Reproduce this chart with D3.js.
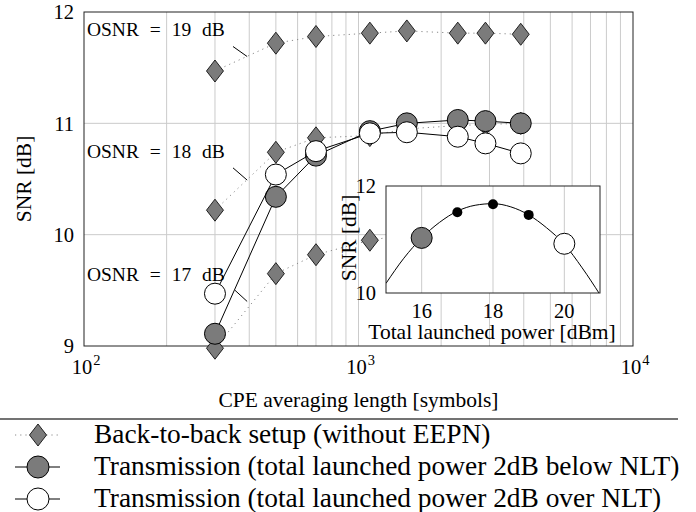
<!DOCTYPE html>
<html><head><meta charset="utf-8">
<script src="https://cdn.jsdelivr.net/npm/d3@7"></script>
<style>
body{margin:0;background:#fff}
svg{display:block}
text{font-family:"Liberation Serif","Times New Roman","DejaVu Serif",serif;fill:#000}
</style>
</head><body>
<svg id="c" width="696" height="512"></svg>
<script>
// ---------- data ----------
const cpeLength = [300, 500, 700, 1100, 1500, 2300, 2900, 3900];
const b2bOSNR19 = [11.47, 11.72, 11.78, 11.81, 11.83, 11.81, 11.81, 11.80];
const b2bOSNR18 = [10.22, 10.74, 10.87, 10.89, 10.95, 10.98, 10.99, 11.00];
const b2bOSNR17 = [8.98, 9.65, 9.82, 9.95, 10.00, 10.03, 10.04, 10.05];
const txBelowNLT = [9.11, 10.34, 10.71, 10.93, 11.00, 11.03, 11.02, 11.00];
const txOverNLT  = [9.47, 10.54, 10.75, 10.91, 10.92, 10.88, 10.82, 10.73];

const yTicks = [9, 10, 11, 12];
const xTickExp = [2, 3, 4];
const osnrLabels = ["OSNR = 19 dB", "OSNR = 18 dB", "OSNR = 17 dB"];
const osnrLabelPos = [[102.5, 11.78], [102.5, 10.69], [102.5, 9.58]];
const osnrPins = [[[349, 11.69], [393, 11.60]], [[349, 10.60], [393, 10.49]], [[355, 9.50], [393, 9.40]]];

// inset
const insetCurvePower = [15, 15.5, 16, 16.5, 17, 17.5, 18, 18.5, 19, 19.5, 20, 20.5, 21];
const insetCurveSNR   = [10.18, 10.65, 11.03, 11.32, 11.53, 11.64, 11.67, 11.61, 11.46, 11.22, 10.91, 10.47, 9.97];
const insetOptPower = [17, 18, 19];
const insetOptSNR   = [11.51, 11.66, 11.46];
const insetBelowPower = [16], insetBelowSNR = [11.03];
const insetOverPower  = [20], insetOverSNR  = [10.92];
const insetXTicks = [16, 18, 20];
const insetYTicks = [10, 12];

const legendLabels = [
  "Back-to-back setup (without EEPN)",
  "Transmission (total launched power 2dB below NLT)",
  "Transmission (total launched power 2dB over NLT)"
];

// ---------- drawing ----------
const svg = d3.select("#c");
const x = d3.scaleLog().domain([100, 10000]).range([84, 633]);
const y = d3.scaleLinear().domain([9, 12]).range([346, 12]);
const gridCol = "#cbcbcb";
const grayFill = "#7b7b7b";

// grid
const vGrid = x.ticks().filter(v => v > 100 && v < 10000);
svg.append("g").selectAll("line").data(vGrid).join("line")
  .attr("x1", d => x(d)).attr("x2", d => x(d)).attr("y1", y(9)).attr("y2", y(12))
  .attr("stroke", gridCol).attr("stroke-width", 1);
svg.append("g").selectAll("line").data([10, 11]).join("line")
  .attr("x1", x(100)).attr("x2", x(10000)).attr("y1", d => y(d)).attr("y2", d => y(d))
  .attr("stroke", gridCol).attr("stroke-width", 1);

// frame
svg.append("rect").attr("x", x(100)).attr("y", y(12))
  .attr("width", x(10000) - x(100)).attr("height", y(9) - y(12))
  .attr("fill", "none").attr("stroke", "#222").attr("stroke-width", 1);

// y tick labels
svg.append("g").selectAll("text").data(yTicks).join("text")
  .attr("x", x(100) - 10).attr("y", d => y(d)).attr("dy", "0.35em")
  .attr("text-anchor", "end").attr("font-size", 20.5).text(d => d);

// x tick labels
const xt = svg.append("g").selectAll("text").data(xTickExp).join("text")
  .attr("x", d => x(Math.pow(10, d)) + 2).attr("y", 374)
  .attr("text-anchor", "middle").attr("font-size", 20.5);
xt.append("tspan").text("10");
xt.append("tspan").attr("dy", -9).attr("dx", 1).attr("font-size", 14.5).text(d => d);

// axis titles
svg.append("text").attr("x", x(1000)).attr("y", 407).attr("text-anchor", "middle")
  .attr("font-size", 21.5).text("CPE averaging length [symbols]");
svg.append("text").attr("transform", "translate(31,179) rotate(-90)")
  .attr("text-anchor", "middle").attr("font-size", 21.5).text("SNR [dB]");

// OSNR labels + pins
svg.append("g").selectAll("text").data(osnrLabels).join("text")
  .attr("x", (d, i) => x(osnrLabelPos[i][0])).attr("y", (d, i) => y(osnrLabelPos[i][1]))
  .attr("font-size", 19.5).attr("word-spacing", 6).text(d => d);
svg.append("g").selectAll("line").data(osnrPins).join("line")
  .attr("x1", d => x(d[0][0])).attr("y1", d => y(d[0][1]))
  .attr("x2", d => x(d[1][0])).attr("y2", d => y(d[1][1]))
  .attr("stroke", "#000").attr("stroke-width", 1);

// series
const line = d3.line().x(d => x(d[0])).y(d => y(d[1]));
const diamond = (cx, cy) => `M${cx},${cy-11}L${cx+8.5},${cy}L${cx},${cy+11}L${cx-8.5},${cy}Z`;

function drawB2B(vals) {
  const pts = cpeLength.map((c, i) => [c, vals[i]]);
  svg.append("path").attr("d", line(pts)).attr("fill", "none")
    .attr("stroke", "#8a8a8a").attr("stroke-width", 1).attr("stroke-dasharray", "1.2,4");
  svg.append("g").selectAll("path").data(pts).join("path")
    .attr("d", d => diamond(x(d[0]), y(d[1])))
    .attr("fill", grayFill).attr("stroke", "#111").attr("stroke-width", 0.9);
}
drawB2B(b2bOSNR19);
drawB2B(b2bOSNR18);
drawB2B(b2bOSNR17);

function drawTx(vals, fill) {
  const pts = cpeLength.map((c, i) => [c, vals[i]]);
  svg.append("path").attr("d", line(pts)).attr("fill", "none")
    .attr("stroke", "#000").attr("stroke-width", 1);
  svg.append("g").selectAll("circle").data(pts).join("circle")
    .attr("cx", d => x(d[0])).attr("cy", d => y(d[1])).attr("r", 10.5)
    .attr("fill", fill).attr("stroke", "#000").attr("stroke-width", 1);
}
drawTx(txBelowNLT, grayFill);
drawTx(txOverNLT, "#fff");

// ---------- inset ----------
const ix = d3.scaleLinear().domain([15, 21]).range([386, 600]);
const iy = d3.scaleLinear().domain([10, 12]).range([293, 186]);
svg.append("rect").attr("x", ix(15)).attr("y", iy(12))
  .attr("width", ix(21) - ix(15)).attr("height", iy(10) - iy(12))
  .attr("fill", "#fff");
svg.append("defs").append("clipPath").attr("id", "insetClip").append("rect")
  .attr("x", ix(15)).attr("y", iy(12)).attr("width", ix(21) - ix(15)).attr("height", iy(10) - iy(12));
svg.append("g").selectAll("line").data(insetXTicks).join("line")
  .attr("x1", d => ix(d)).attr("x2", d => ix(d)).attr("y1", iy(10)).attr("y2", iy(12))
  .attr("stroke", gridCol).attr("stroke-width", 1);
const iline = d3.line().x(d => ix(d[0])).y(d => iy(d[1])).curve(d3.curveMonotoneX);
svg.append("path").attr("clip-path", "url(#insetClip)")
  .attr("d", iline(insetCurvePower.map((p, i) => [p, insetCurveSNR[i]])))
  .attr("fill", "none").attr("stroke", "#000").attr("stroke-width", 1);
svg.append("rect").attr("x", ix(15)).attr("y", iy(12))
  .attr("width", ix(21) - ix(15)).attr("height", iy(10) - iy(12))
  .attr("fill", "none").attr("stroke", "#222").attr("stroke-width", 1);
svg.append("g").selectAll("circle").data(insetOptPower.map((p, i) => [p, insetOptSNR[i]])).join("circle")
  .attr("cx", d => ix(d[0])).attr("cy", d => iy(d[1])).attr("r", 5).attr("fill", "#000");
svg.append("g").selectAll("circle").data(insetBelowPower.map((p, i) => [p, insetBelowSNR[i]])).join("circle")
  .attr("cx", d => ix(d[0])).attr("cy", d => iy(d[1])).attr("r", 10.5)
  .attr("fill", grayFill).attr("stroke", "#000").attr("stroke-width", 1);
svg.append("g").selectAll("circle").data(insetOverPower.map((p, i) => [p, insetOverSNR[i]])).join("circle")
  .attr("cx", d => ix(d[0])).attr("cy", d => iy(d[1])).attr("r", 10.5)
  .attr("fill", "#fff").attr("stroke", "#000").attr("stroke-width", 1);
svg.append("g").selectAll("text").data(insetYTicks).join("text")
  .attr("x", ix(15) - 10).attr("y", d => iy(d)).attr("dy", "0.35em")
  .attr("text-anchor", "end").attr("font-size", 20.5).text(d => d);
svg.append("g").selectAll("text").data(insetXTicks).join("text")
  .attr("x", d => ix(d)).attr("y", 318).attr("text-anchor", "middle")
  .attr("font-size", 20.5).text(d => d);
svg.append("text").attr("x", 492).attr("y", 339).attr("text-anchor", "middle")
  .attr("font-size", 21.5).text("Total launched power [dBm]");
svg.append("text").attr("transform", "translate(356,238) rotate(-90)")
  .attr("text-anchor", "middle").attr("font-size", 21.5).text("SNR [dB]");

// ---------- legend ----------
svg.append("line").attr("x1", 0).attr("x2", 678).attr("y1", 419).attr("y2", 419)
  .attr("stroke", "#444").attr("stroke-width", 1.5);
const legBase = [443, 475, 507];
const lg = svg.append("g");
legendLabels.forEach((lab, i) => {
  const cy = legBase[i] - 8;
  const ln = lg.append("line").attr("x1", 15).attr("x2", 60).attr("y1", cy).attr("y2", cy);
  if (i === 0) {
    ln.attr("stroke", "#8a8a8a").attr("stroke-width", 1).attr("stroke-dasharray", "1.2,4");
    lg.append("path").attr("d", diamond(38, cy)).attr("fill", grayFill)
      .attr("stroke", "#111").attr("stroke-width", 0.9);
  } else {
    ln.attr("stroke", "#000").attr("stroke-width", 1);
    lg.append("circle").attr("cx", 38).attr("cy", cy).attr("r", 11)
      .attr("fill", i === 1 ? grayFill : "#fff").attr("stroke", "#000").attr("stroke-width", 1);
  }
  lg.append("text").attr("x", 94).attr("y", legBase[i]).attr("font-size", 27.4).text(lab);
});
</script>
</body></html>
